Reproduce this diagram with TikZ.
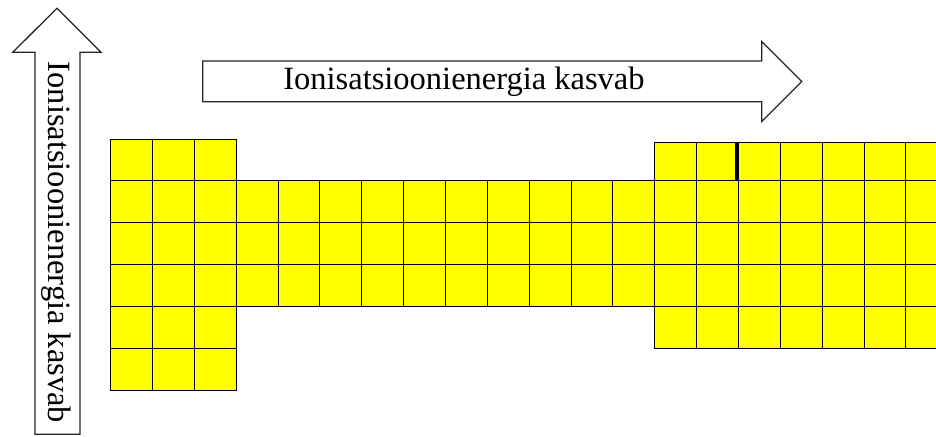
\documentclass[tikz,border=0pt]{standalone}
\usepackage{fontspec}
\setmainfont{Liberation Serif}
\definecolor{cellyellow}{RGB}{255,255,0}
\tikzset{
  cellbox/.style={draw=black, fill=cellyellow, line width=1pt},
  thickedge/.style={draw=black, line width=3pt},
  arrowshape/.style={draw=black!85, fill=white, line width=1.3pt, line join=miter},
  arrowlabel/.style={font=\fontsize{32.5}{38}\selectfont, inner sep=0pt}
}
\begin{document}
\begin{tikzpicture}[x=1pt, y=-1pt]
\useasboundingbox (0,0) rectangle (936,436);
\clip (0,0) rectangle (936,436);
\def\xo{110.7}
\def\yo{139}
\def\cw{41.85}
% left block
\foreach \c in {0,...,2} {
  \foreach \r in {0,...,5} {
    \draw[cellbox] ({\xo+\c*\cw},{\yo+\r*\cw}) rectangle ++(\cw,\cw);
  }
}
% middle rows
\foreach \c in {3,...,12} {
  \foreach \r in {1,2,3} {
    \draw[cellbox] ({\xo+\c*\cw},{\yo+\r*\cw}) rectangle ++(\cw,\cw);
  }
}
% right block
\foreach \c in {13,...,19} {
  \draw[cellbox] ({\xo+\c*\cw},142.7) rectangle ({\xo+(\c+1)*\cw},{\yo+\cw});
  \foreach \r in {1,...,4} {
    \draw[cellbox] ({\xo+\c*\cw},{\yo+\r*\cw}) rectangle ++(\cw,\cw);
  }
}
\draw[thickedge] ({\xo+15*\cw-1.5},142.7) -- ({\xo+15*\cw-1.5},{\yo+\cw});
% arrows
\draw[arrowshape] (202.7,61) -- (761.7,61) -- (761.7,41.5) -- (801.7,81.5)
  -- (761.7,121.5) -- (761.7,101.7) -- (202.7,101.7) -- cycle;
\node[arrowlabel] (rowlabel) at (464,82) {Ionisatsioonienergia kasvab};
\draw[arrowshape] (35,434.3) -- (35,52.3) -- (12.7,52.3) -- (57,8.3)
  -- (101,52.3) -- (80,52.3) -- (80,434.3) -- cycle;
\node[arrowlabel, rotate=-90] (columnlabel) at (56,242.5) {Ionisatsioonienergia kasvab};
\end{tikzpicture}
\end{document}
